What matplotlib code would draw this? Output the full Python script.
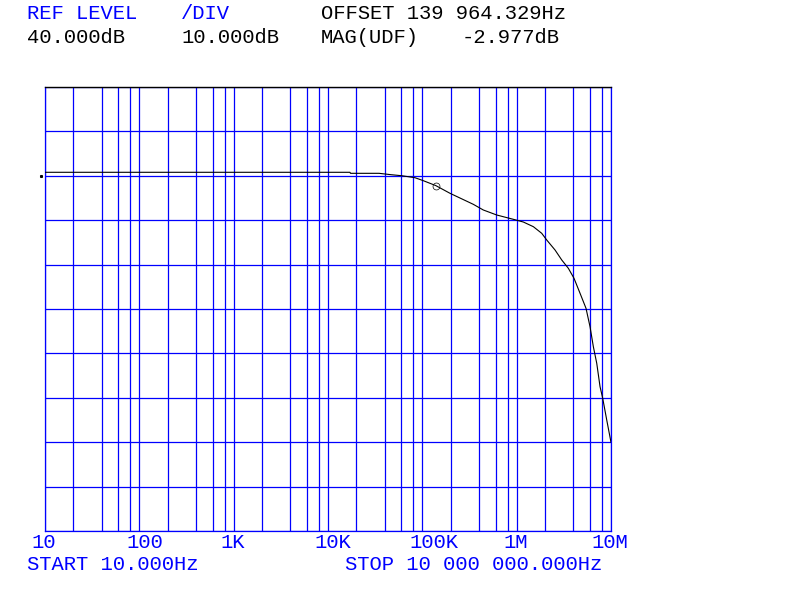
import matplotlib
matplotlib.use('Agg')
import matplotlib.pyplot as plt
import matplotlib.transforms as mtransforms
from matplotlib.transforms import offset_copy

# ---- data ----
freq_hz = [10, 17100, 17300, 34750, 46560, 60400, 83600, 102400, 138700, 196400,
           346800, 442900, 615000, 922000, 1177000, 1503000, 1843000, 2083000,
           2551000, 3005000, 3530000, 4055000, 4697000, 5433000, 5994000,
           6500000, 7061000, 7653000, 8168000, 9011000, 10000000]
mag_db = [20.79, 20.79, 20.56, 20.56, 20.25, 20.02, 19.57, 18.90, 17.80, 16.06,
          13.58, 12.30, 11.17, 10.20, 9.59, 8.54, 7.05, 5.54,
          3.29, 1.04, -0.83, -3.09, -6.46, -9.84, -13.99,
          -18.49, -22.23, -27.50, -30.11, -35.0, -40.02]
marker_freq = 139964.329
marker_db = 17.80
ref_line_db = 20

decades = [10, 100, 1e3, 1e4, 1e5, 1e6, 1e7]
decade_labels = ["10", "100", "1K", "10K", "100K", "1M", "10M"]
minor_mults = [2, 4, 6, 8]

header_row1 = [("REF LEVEL", 27, 'blue'), ("/DIV", 181, 'blue'),
               ("OFFSET 139 964.329Hz", 321, 'black')]
header_row2 = [("40.000dB", 27, 'black'), ("10.000dB", 181, 'black'),
               ("MAG(UDF)", 321, 'black'), ("-2.977dB", 461.5, 'black')]
start_text = "START 10.000Hz"
stop_text = "STOP 10 000 000.000Hz"

BLUE = '#0000ff'
FONT = 'Liberation Mono'
FS = 14.8

fig = plt.figure(figsize=(8, 6), dpi=100)
ax = fig.add_axes([45 / 800, 1 - 531 / 600, 566 / 800, 444 / 600])

ax.set_xscale('log')
ax.set_xlim(10, 1e7)
ax.set_ylim(-60, 40)

minor = [d * m for d in decades[:-1] for m in minor_mults]
ax.set_xticks(decades)
ax.set_xticks(minor, minor=True)
ax.set_yticks(range(-60, 41, 10))
ax.tick_params(which='both', length=0, labelbottom=False, labelleft=False)
ax.grid(which='both', axis='x', color=BLUE, lw=0.9)
ax.grid(which='major', axis='y', color=BLUE, lw=0.9)
ax.set_axisbelow(True)
for s in ['left', 'right', 'bottom']:
    ax.spines[s].set_color(BLUE)
    ax.spines[s].set_linewidth(0.9)
ax.spines['top'].set_color('black')
ax.spines['top'].set_linewidth(1.0)

ax.plot(freq_hz, mag_db, color='black', lw=0.8, zorder=5)
ax.plot([marker_freq], [marker_db], marker='o', ms=5, mfc='none', mec='black',
        mew=0.5, ls='none', zorder=6)

blend = mtransforms.blended_transform_factory(ax.transAxes, ax.transData)
ax.plot([0], [ref_line_db], marker='s', ms=1.2, color='black', ls='none',
        transform=offset_copy(blend, fig=fig, x=-4, y=0, units='dots'), clip_on=False)

# tick labels
xblend = mtransforms.blended_transform_factory(ax.transData, ax.transAxes)
adv = FS * 0.6 * 100 / 72
for i, (d, lab) in enumerate(zip(decades, decade_labels)):
    dx = -adv - 1 if i < len(decades) - 1 else -adv - 7
    ax.text(d, 0, lab, transform=offset_copy(xblend, fig=fig, x=dx, y=-17, units='dots'),
            ha='left', va='baseline', color=BLUE, fontsize=FS, family=FONT, clip_on=False)

for txt, x, c in header_row1:
    fig.text(x / 800, 1 - 19 / 600, txt, color=c, fontsize=FS, family=FONT, va='baseline')
for txt, x, c in header_row2:
    fig.text(x / 800, 1 - 43 / 600, txt, color=c, fontsize=FS, family=FONT, va='baseline')
fig.text(27 / 800, 1 - 570 / 600, start_text, color=BLUE, fontsize=FS, family=FONT, va='baseline')
fig.text(345 / 800, 1 - 570 / 600, stop_text, color=BLUE, fontsize=FS, family=FONT, va='baseline')

fig.savefig('out.png', dpi=100, facecolor='white')
